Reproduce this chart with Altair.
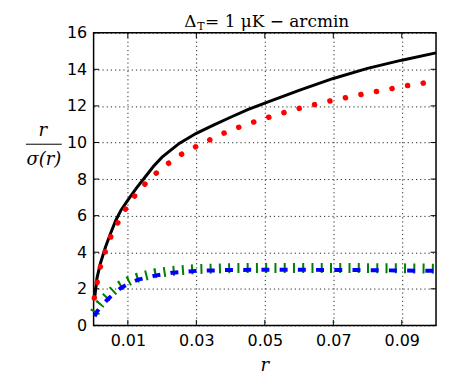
import altair as alt
import pandas as pd

# ---- data ----
r_black = [0.0003, 0.001, 0.002, 0.0035, 0.005, 0.0065, 0.008, 0.01, 0.0125, 0.015,
           0.0175, 0.02, 0.025, 0.03, 0.035, 0.04, 0.045, 0.05, 0.06, 0.07, 0.08, 0.09, 0.1]
black = [1.5, 2.6, 3.4, 4.3, 5.05, 5.75, 6.3, 6.85, 7.5, 8.1,
         8.7, 9.2, 9.95, 10.5, 10.95, 11.38, 11.8, 12.15, 12.85, 13.5, 14.05, 14.5, 14.9]

r_red = [0.0002, 0.0008, 0.0014, 0.0019, 0.0025, 0.0032, 0.004, 0.0047, 0.0054, 0.0064,
         0.0076, 0.0086, 0.0098, 0.0122, 0.0168, 0.0214, 0.026, 0.0307, 0.0353, 0.0399,
         0.0445, 0.0491, 0.0537, 0.0583, 0.0629, 0.0675, 0.0722, 0.0767, 0.0814, 0.0859,
         0.0906, 0.0952, 0.1]
red = [1.5, 2.14, 2.68, 3.14, 3.6, 3.95, 4.3, 4.68, 5.04, 5.4,
       5.77, 6.13, 6.49, 7.13, 8.1, 8.8, 9.4, 9.85, 10.27, 10.67,
       10.97, 11.27, 11.52, 11.79, 11.99, 12.21, 12.39, 12.57, 12.75, 12.9,
       13.08, 13.21, 13.37]

r_lens = [0.0003, 0.001, 0.002, 0.004, 0.006, 0.008, 0.0105, 0.013, 0.018, 0.023,
          0.03, 0.04, 0.05, 0.06, 0.07, 0.08, 0.09, 0.1]
blue = [0.5, 0.75, 1.0, 1.4, 1.75, 2.05, 2.3, 2.5, 2.72, 2.88,
        2.98, 3.03, 3.04, 3.04, 3.03, 3.02, 3.0, 2.98]
green = [0.7, 0.95, 1.2, 1.6, 1.95, 2.2, 2.45, 2.62, 2.85, 2.98,
         3.08, 3.13, 3.14, 3.14, 3.14, 3.13, 3.12, 3.1]

x_ticks = [0.01, 0.03, 0.05, 0.07, 0.09]
y_ticks = [0, 2, 4, 6, 8, 10, 12, 14, 16]

W, H = 344, 294

xs = alt.Scale(domain=[0, 0.1], nice=False, zero=False)
ys = alt.Scale(domain=[0, 16], nice=False)

df_black = pd.DataFrame({"r": r_black, "v": black})
df_red = pd.DataFrame({"r": r_red, "v": red})
df_blue = pd.DataFrame({"r": r_lens, "v": blue})
df_green = pd.DataFrame({"r": r_lens, "v": green})

common = dict(title=None, ticks=False, domain=False, labelFont="DejaVu Sans",
              labelFontSize=16, labelColor="black", labelPadding=7,
              labelOverlap=False, labelBound=False, labelFlush=False,
              grid=True, gridDash=[1.2, 3],
              gridColor="black", gridWidth=1, gridOpacity=0.85)
xax = alt.Axis(values=x_ticks, format=".2f", **common)
yax = alt.Axis(values=y_ticks, format="d", tickCount=9, **common)

X = lambda f: alt.X(f, scale=xs, axis=xax)
Y = lambda f: alt.Y(f, scale=ys, axis=yax)

base_black = alt.Chart(df_black).mark_line(color="black", strokeWidth=3).encode(
    x=X("r:Q"), y=Y("v:Q"))
line_red = alt.Chart(df_red).mark_line(
    color="red", strokeWidth=5.5, strokeDash=[0.1, 15.8], strokeCap="round"
).encode(x=X("r:Q"), y=Y("v:Q"))
line_green = alt.Chart(df_green).mark_line(
    color="green", strokeWidth=10, strokeDash=[2, 7.3], strokeCap="butt"
).encode(x=X("r:Q"), y=Y("v:Q"))
line_blue = alt.Chart(df_blue).mark_line(
    color="blue", strokeWidth=4, strokeDash=[8, 10.3], strokeCap="butt"
).encode(x=X("r:Q"), y=Y("v:Q"))

# inward ticks on all four sides
dfx = pd.DataFrame({"r": x_ticks})
dfy = pd.DataFrame({"v": y_ticks})
tick_b = alt.Chart(dfx).mark_rule(color="black", strokeWidth=1).encode(
    x=X("r:Q"), y=alt.value(H), y2=alt.value(H - 5.5))
tick_t = alt.Chart(dfx).mark_rule(color="black", strokeWidth=1).encode(
    x=X("r:Q"), y=alt.value(0), y2=alt.value(5.5))
tick_l = alt.Chart(dfy).mark_rule(color="black", strokeWidth=1).encode(
    y=Y("v:Q"), x=alt.value(0), x2=alt.value(5.5))
tick_r = alt.Chart(dfy).mark_rule(color="black", strokeWidth=1).encode(
    y=Y("v:Q"), x=alt.value(W), x2=alt.value(W - 5.5))

def txt(s, x, y, size, italic=False, align="left", font="DejaVu Serif"):
    return alt.Chart(pd.DataFrame({"s": [s]})).mark_text(
        align=align, baseline="alphabetic", fontSize=size, font=font,
        fontStyle="italic" if italic else "normal", color="black"
    ).encode(x=alt.value(x), y=alt.value(y), text="s:N")

# title: Δ_T = 1 μK − arcmin  (page coords minus plot origin 94,32)
t1 = txt("Δ", 185 - 94, 26 - 32, 17)
t2 = txt("T", 198 - 94, 29 - 32, 11)
t3 = txt("= 1 μK − arcmin", 206 - 94, 26 - 32, 17)

# y-axis label as a fraction r / σ(r)
yl_num = txt("r", 43 - 94, 136 - 32, 18, italic=True, align="center")
yl_den = txt("σ(r)", 44 - 94, 165 - 32, 18, italic=True, align="center")
yl_bar = alt.Chart(pd.DataFrame({"a": [0]})).mark_rule(color="black", strokeWidth=1).encode(
    x=alt.value(26 - 94), x2=alt.value(62 - 94), y=alt.value(144 - 32))

xl = txt("r", 266 - 94, 372 - 32, 18, italic=True, align="center")

chart = alt.layer(
    base_black, line_red, line_green, line_blue,
    tick_b, tick_t, tick_l, tick_r,
    t1, t2, t3, yl_num, yl_den, yl_bar, xl,
).resolve_axis(x="shared", y="shared").properties(
    width=W, height=H,
    autosize=alt.AutoSizeParams(type="none"),
    padding={"left": 86, "top": 24, "right": 5, "bottom": 50},
).configure_view(stroke="black", strokeWidth=1.5)

chart.save("out.html", embed_options={"renderer": "svg", "actions": False})
